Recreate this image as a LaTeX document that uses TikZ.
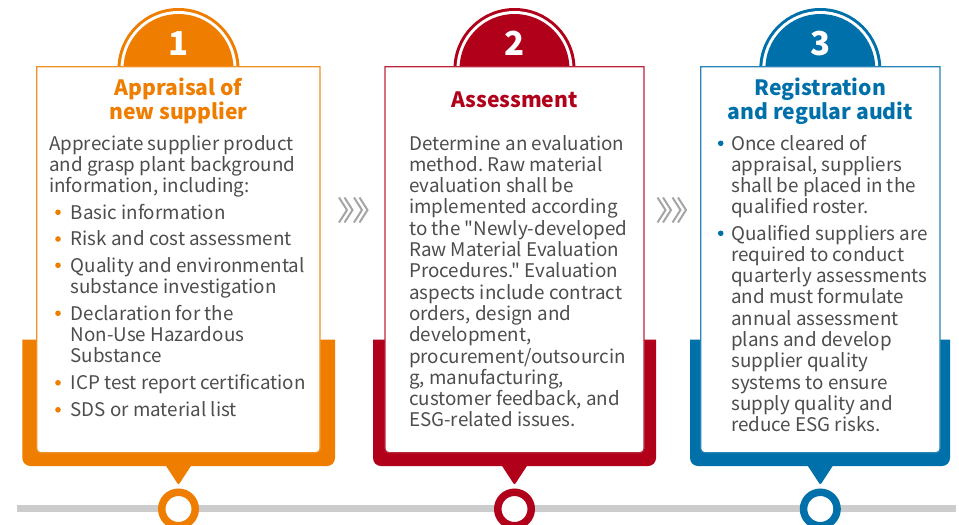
\documentclass[tikz,border=0pt]{standalone}
\usepackage{fontspec}
\setmainfont{Noto Sans CJK SC}[Ligatures=TeXOff]
\frenchspacing
\definecolor{corange}{RGB}{238,125,0}
\definecolor{cred}{RGB}{176,0,26}
\definecolor{cblue}{RGB}{0,112,170}
\definecolor{ctext}{RGB}{77,77,77}
\definecolor{cline}{RGB}{204,204,204}
\definecolor{cchev}{RGB}{165,165,165}
\tikzset{
  body/.style={anchor=base west, inner sep=0pt, text=ctext, font=\fontsize{18.8}{21.3}\selectfont},
  ttl/.style={anchor=base, inner sep=0pt, font=\bfseries\fontsize{21.1}{25}\selectfont},
  num/.style={anchor=base, inner sep=0pt, text=white, font=\bfseries\fontsize{33}{36}\selectfont},
  chev/.style={cchev, line width=2pt},
}
\newcommand{\cardback}[6]{% color, backleft, backright, boxleft, boxright, cx
  \fill[#1] (#2,339.5) [rounded corners=8pt] -- (#2,466) -- (#3,466) [sharp corners] -- (#3,339.5) -- cycle;
  \fill[#1, rounded corners=2pt] (#6-15,462) -- (#6,485) [sharp corners] -- (#6+15,462) -- cycle;
  \fill[#1] (#6,69) circle (61);
  \fill[white] (#6,69) circle (58);
  \fill[#1] (#6,69) circle (55);
  \draw[#1!85!white, line width=1.2pt, fill=white] (#4,66.7) [rounded corners=4pt] -- (#4,452.7) -- (#5,452.7) [sharp corners] -- (#5,66.7) -- cycle;
}
\begin{document}
\begin{tikzpicture}[x=1pt, y=-1pt]
\useasboundingbox (0,0) rectangle (959,525);
% timeline
\coordinate (tlA) at (16.7,508.5);
\coordinate (tlB) at (956,508.5);
\draw[cline, line width=7pt] (tlA) -- (tlB);

% card backgrounds
\cardback{corange}{22.3}{335}{36.7}{320}{178.5}
\cardback{cred}{373}{656}{385}{644}{514.5}
\cardback{cblue}{690}{950}{700.7}{940}{820.3}

% numbers
\node[num] (n1) at (178.5,55) {1};
\node[num] (n2) at (514.5,55) {2};
\node[num] (n3) at (820.3,55) {3};

% titles
\node[ttl, text=corange] (t1a) at (178.5,95) {Appraisal of};
\node[ttl, text=corange] (t1b) at (178.5,119.5) {new supplier};
\node[ttl, text=cred] (t2a) at (514.5,107.3) {Assessment};
\node[ttl, text=cblue] (t3a) at (820.3,95) {Registration};
\node[ttl, text=cblue] (t3b) at (820.3,119.5) {and regular audit};

% card 1 body
\node[body] (b1a) at (49,150) {Appreciate supplier product};
\node[body] (b1b) at (49,171.3) {and grasp plant background};
\node[body] (b1c) at (49,192.6) {information, including:};
\foreach \y [count=\i] in {219,245.7,272,320,389.5,416.5}
  \fill[corange] (58,\y-6.7) circle (2.8);
\node[body] (b1d) at (70.5,219) {Basic information};
\node[body] (b1e) at (70.5,245.7) {Risk and cost assessment};
\node[body] (b1f) at (70.5,272) {Quality and environmental};
\node[body] (b1g) at (70.5,293.3) {substance investigation};
\node[body] (b1h) at (70.5,320) {Declaration for the};
\node[body] (b1i) at (70.5,341.3) {Non-Use Hazardous};
\node[body] (b1j) at (70.5,362.6) {Substance};
\node[body] (b1k) at (70.5,389.5) {ICP test report certification};
\node[body] (b1l) at (70.5,416.5) {SDS or material list};

% card 2 body
\foreach \t [count=\i] in {
  {Determine an evaluation},
  {method. Raw material},
  {evaluation shall be},
  {implemented according},
  {to the "Newly-developed},
  {Raw Material Evaluation},
  {Procedures." Evaluation},
  {aspects include contract},
  {orders, design and},
  {development,},
  {procurement/outsourcin},
  {g, manufacturing,},
  {customer feedback, and},
  {ESG-related issues.}}
  \node[body] (b2l\i) at (409,150+21.3*\i-21.3) {\t};

% card 3 body
\fill[cblue] (720.7,150-6.7) circle (2.8);
\fill[cblue] (720.7,240-6.7) circle (2.8);
\foreach \t [count=\i] in {
  {Once cleared of},
  {appraisal, suppliers},
  {shall be placed in the},
  {qualified roster.}}
  \node[body] (b3a\i) at (731,150+21.3*\i-21.3) {\t};
\foreach \t [count=\i] in {
  {Qualified suppliers are},
  {required to conduct},
  {quarterly assessments},
  {and must formulate},
  {annual assessment},
  {plans and develop},
  {supplier quality},
  {systems to ensure},
  {supply quality and},
  {reduce ESG risks.}}
  \node[body] (b3b\i) at (731,240+21.3*\i-21.3) {\t};

% timeline rings
\draw[corange, line width=7.5pt, fill=white] (178.5,509) circle (16.75);
\draw[cred, line width=7.5pt, fill=white] (514.5,509) circle (16.75);
\draw[cblue, line width=7.5pt, fill=white] (820.3,509) circle (16.75);

% chevrons
\foreach \x in {339,344.5,354,359.5,657.5,663,672.5,678}
  \draw[chev] (\x,197.5) -- (\x+8,210) -- (\x,222.5);
\end{tikzpicture}
\end{document}
